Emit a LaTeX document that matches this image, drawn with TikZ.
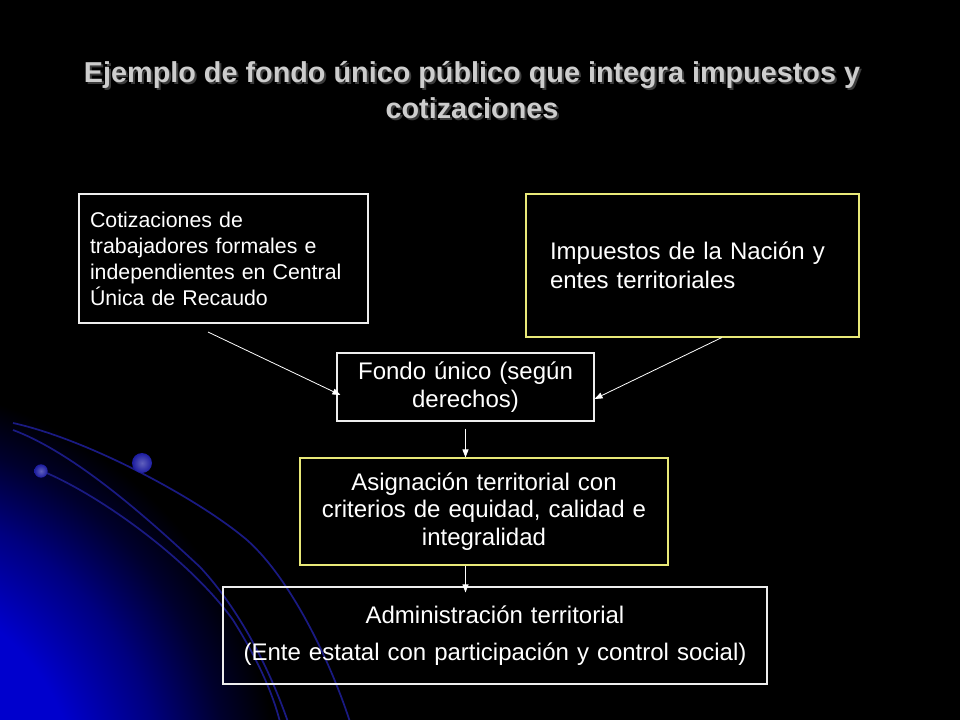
\documentclass[tikz,border=0pt]{standalone}
\usepackage{fontspec}
\setmainfont{Liberation Sans}
\usetikzlibrary{arrows.meta,calc}
\definecolor{ttl}{RGB}{205,205,205}
\definecolor{ttlsh}{RGB}{60,60,60}
\definecolor{ylw}{RGB}{232,232,120}
\definecolor{wht}{RGB}{238,238,238}
\definecolor{arcblue}{RGB}{26,26,130}
\definecolor{dotblue}{RGB}{28,28,160}
\definecolor{glow}{RGB}{0,0,205}
\pgfdeclareradialshading{bgglow}{\pgfpoint{0bp}{0bp}}{color(0bp)=(glow); color(13bp)=(glow); color(18bp)=(glow!62!black); color(22bp)=(glow!22!black); color(25bp)=(black); color(50bp)=(black)}
\begin{document}
\begin{tikzpicture}[x=0.75pt,y=-0.75pt,
  box/.style={draw=wht,line width=0.8pt,text=white,inner ysep=0pt},
  ybox/.style={box,draw=ylw},
  arr/.style={draw=white,line width=0.6pt,-{Triangle[length=6pt,width=4.5pt]}},
  arcline/.style={draw=arcblue,line width=1.3pt}]
\useasboundingbox (0,0) rectangle (960,720);
% background
\fill[black] (0,0) rectangle (960,720);
\begin{scope}
\clip (0,0) rectangle (960,720);
\shade[shading=bgglow] (-140,800) circle (315pt);
\draw[arcline] (13,423) .. controls (90,440) and (200,500) .. (247,540) .. controls (290,578) and (330,660) .. (350,722);
\draw[arcline] (13,430) .. controls (80,455) and (160,530) .. (200,567) .. controls (240,610) and (270,670) .. (288,722);
\draw[arcline] (42,471) .. controls (100,495) and (190,560) .. (233,620) .. controls (255,655) and (272,690) .. (280,722);
\shade[inner color=dotblue!70!white,outer color=dotblue] (142,463) circle (7.5pt);
\shade[inner color=dotblue!70!white,outer color=dotblue] (41,471) circle (5pt);
\end{scope}
% title
\node[text=ttlsh,font=\fontsize{21.6}{26.5}\selectfont\bfseries,align=center] (titlesh) at (474,92)
  {Ejemplo de fondo único público que integra impuestos y\\cotizaciones};
\node[text=ttl,font=\fontsize{21.6}{26.5}\selectfont\bfseries,align=center] (title) at (472,90)
  {Ejemplo de fondo único público que integra impuestos y\\cotizaciones};
% boxes
\node[box,minimum height=96.75pt,text width=200.25pt,inner xsep=8.25pt,align=left,
  font=\fontsize{16}{19.5}\selectfont] (cot) at (223.5,258.5)
  {Cotizaciones de\\trabajadores formales e\\independientes en Central\\Única de Recaudo};
\node[ybox,minimum height=107.25pt,text width=213.75pt,inner xsep=18pt,align=left,
  font=\fontsize{18}{21.75}\selectfont] (imp) at (692.5,265.5)
  {Impuestos de la Nación y\\entes territoriales};
\node[box,minimum height=51pt,text width=184.75pt,inner xsep=4pt,align=center,
  font=\fontsize{18}{21.5}\selectfont] (fondo) at (465.5,387)
  {Fondo único (según\\derechos)};
\node[ybox,minimum height=80.25pt,text width=268pt,inner xsep=4pt,align=center,
  font=\fontsize{18}{20.6}\selectfont] (asig) at (484,511.5)
  {Asignación territorial con\\criterios de equidad, calidad e\\integralidad};
\node[box,minimum height=72.75pt,text width=400pt,inner xsep=4pt,align=center,
  font=\fontsize{18}{27.75}\selectfont] (admin) at (495,635.5)
  {Administración territorial\\(Ente estatal con participación y control social)};
% connectors
\coordinate (s1) at (208,332);
\draw[arr] (s1) -- ([xshift=3pt,yshift=-6pt]fondo.west);
\draw[arr] ([xshift=22pt]imp.south) -- ([yshift=-9pt]fondo.east);
\draw[arr] ($(fondo.south)+(0,7)$) -- (fondo.south |- asig.north);
\draw[arr] (fondo.south |- asig.south) -- ($(fondo.south |- admin.north)+(0,6)$);
\end{tikzpicture}
\end{document}
